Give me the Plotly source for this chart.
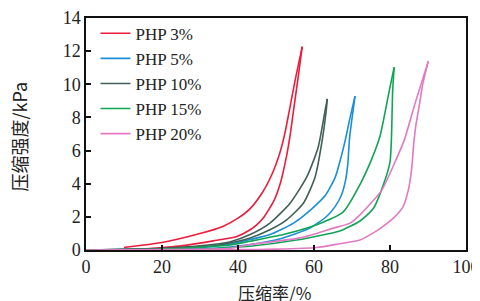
import plotly.graph_objects as go

# ---- data (strain %, compressive strength kPa) ----
series_names = ["PHP 3%", "PHP 5%", "PHP 10%", "PHP 15%", "PHP 20%"]

# PHP 3%
php3_load_x = [10, 20, 29, 36, 40, 43.2, 46.5, 49.0, 50.8, 52.2, 53.5, 55.0, 56.9]
php3_load_y = [0.15, 0.45, 0.93, 1.42, 1.92, 2.5, 3.5, 4.6, 5.7, 6.9, 8.4, 10.2, 12.27]
php3_unld_x = [56.9, 55.7, 54.6, 53.7, 52.8, 51.1, 49.5, 46.7, 44.9, 43.2, 39.7, 33.5, 25, 15]
php3_unld_y = [12.27, 10.2, 8.4, 6.9, 5.7, 4.0, 3.0, 1.95, 1.52, 1.22, 0.82, 0.55, 0.25, 0.05]

# PHP 5%
php5_load_x = [0, 20, 30, 37.9, 43.2, 48.4, 54.6, 59.5, 63.0, 65.6, 67.0, 68.2, 69.4, 70.8]
php5_load_y = [0, 0.05, 0.14, 0.36, 0.63, 0.93, 1.62, 2.5, 3.3, 4.4, 5.5, 6.6, 7.9, 9.28]
php5_unld_x = [70.8, 69.8, 69.3, 68.9, 68.3, 67.2, 65.5, 63.3, 58.9, 51.9, 43.2, 35, 20]
php5_unld_y = [9.28, 7.6, 6.6, 5.2, 4.2, 3.3, 2.6, 2.02, 1.32, 0.73, 0.33, 0.12, 0.02]

# PHP 10%
php10_load_x = [0, 20, 30, 38, 43.2, 48.4, 53.7, 58.1, 61.1, 62.9, 63.5]
php10_load_y = [0, 0.1, 0.25, 0.5, 0.93, 1.62, 2.82, 4.41, 6.2, 8.39, 9.12]
php10_unld_x = [63.5, 63.2, 62.0, 60.3, 57.2, 52.8, 48.4, 43.2, 35, 20, 0]
php10_unld_y = [9.12, 8.39, 6.4, 4.41, 2.82, 1.82, 1.22, 0.73, 0.3, 0.08, 0]

# PHP 15%
php15_load_x = [0, 20, 37.9, 43.2, 51.9, 60.7, 67.7, 72.1, 75.2, 77.4, 79.8, 81.1]
php15_load_y = [0, 0.05, 0.3, 0.53, 0.93, 1.52, 2.3, 3.95, 5.5, 6.9, 9.6, 11.03]
php15_unld_x = [81.1, 80.7, 80.4, 80.0, 78.2, 75.6, 72.1, 66.8, 60.0, 56.3, 43.2, 30]
php15_unld_y = [11.03, 9.6, 6.9, 5.3, 3.9, 2.5, 1.75, 1.15, 0.8, 0.63, 0.23, 0.05]

# PHP 20%
php20_load_x = [0, 20, 37.9, 43.2, 56.3, 65.1, 69.5, 72.1, 77.8, 81.3, 83.7, 86.8, 90.1]
php20_load_y = [0, 0.02, 0.1, 0.33, 0.73, 1.32, 1.62, 2.12, 3.6, 5.3, 6.6, 9.0, 11.4]
php20_unld_x = [90.1, 88.6, 87.9, 86.8, 86.2, 85.7, 84.8, 83.4, 80.9, 78.0, 75.6, 72.1, 66.8, 60.7, 50, 40, 30]
php20_unld_y = [11.4, 10.0, 9.0, 7.5, 6.3, 4.9, 3.6, 2.6, 1.92, 1.4, 1.03, 0.6, 0.38, 0.15, 0.05, 0.02, 0]

x_ticks = [0, 20, 40, 60, 80, 100]
y_ticks = [0, 2, 4, 6, 8, 10, 12, 14]
x_title = "压缩率/%"
y_title = "压缩强度/kPa"

colors = ["#ec1c3c", "#1a8fd8", "#3f5f58", "#10a555", "#e17ac3"]

loads = [
    (php3_load_x, php3_load_y, php3_unld_x, php3_unld_y),
    (php5_load_x, php5_load_y, php5_unld_x, php5_unld_y),
    (php10_load_x, php10_load_y, php10_unld_x, php10_unld_y),
    (php15_load_x, php15_load_y, php15_unld_x, php15_unld_y),
    (php20_load_x, php20_load_y, php20_unld_x, php20_unld_y),
]

font_fam = "Liberation Serif, Times New Roman, Noto Sans CJK SC, serif"
cjk_fam = "Noto Sans CJK SC, sans-serif"

fig = go.Figure()
for name, col, (lx, ly, ux, uy) in zip(series_names, colors, loads):
    fig.add_trace(go.Scatter(x=lx, y=ly, mode="lines", name=name, legendgroup=name,
                             line=dict(color=col, width=1.6, shape="spline", smoothing=0.6)))
    fig.add_trace(go.Scatter(x=ux, y=uy, mode="lines", name=name, legendgroup=name,
                             showlegend=False,
                             line=dict(color=col, width=1.6, shape="spline", smoothing=0.6)))

axis_common = dict(showline=True, linecolor="#111", linewidth=1.5, mirror=True,
                   ticks="inside", ticklen=5, tickwidth=1.5, tickcolor="#111",
                   showgrid=False, zeroline=False, automargin=False,
                   ticklabeloverflow="allow",
                   tickfont=dict(family=font_fam, size=18, color="#222"))

fig.update_layout(
    width=472, height=293,
    margin=dict(l=78, r=14, t=8, b=51),
    paper_bgcolor="white", plot_bgcolor="white",
    font=dict(family=font_fam, color="#222"),
    showlegend=True,
    legend=dict(x=0.025, y=1.01, xanchor="left", yanchor="top",
                bgcolor="rgba(0,0,0,0)", font=dict(family=font_fam, size=17, color="#222"),
                tracegroupgap=0, itemwidth=30),
    xaxis=dict(range=[0, 100], tickvals=x_ticks, **axis_common),
    yaxis=dict(range=[0, 14], tickvals=y_ticks, **axis_common),
    annotations=[
        dict(text=x_title, xref="paper", yref="paper", x=0.495, y=-0.185,
             xanchor="center", yanchor="middle", showarrow=False,
             font=dict(family=cjk_fam, size=17, color="#222")),
        dict(text=y_title, xref="paper", yref="paper", x=-0.176, y=0.49,
             xanchor="center", yanchor="middle", showarrow=False, textangle=-90,
             font=dict(family=cjk_fam, size=18, color="#222")),
    ],
)

fig.write_html("out.html")
